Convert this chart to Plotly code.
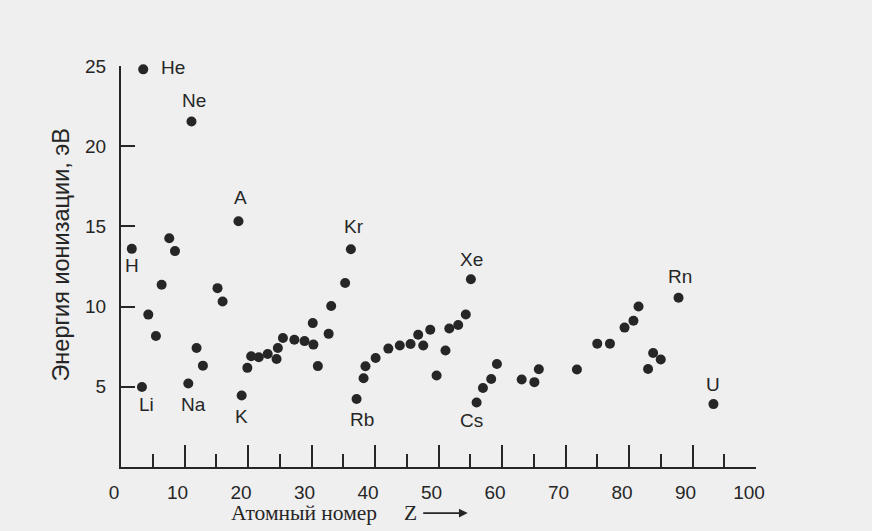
import plotly.graph_objects as go

# Atomic number and ionization energy, eV
atomic_number = [1.7, 3.5, 3.3, 4.3, 5.5, 6.4, 7.6, 8.5, 11.1, 10.6, 11.9, 12.9, 15.2, 16.0,
                 18.5, 19.0, 19.9, 20.5, 21.7, 23.1, 24.5, 24.7, 25.5, 27.3, 28.9, 30.3, 30.2,
                 31.0, 32.7, 33.1, 35.3, 36.2, 37.1, 38.2, 38.5, 40.1, 42.1, 43.9, 45.6, 46.8,
                 47.6, 48.7, 49.7, 51.1, 51.7, 53.1, 54.3, 55.1, 56.0, 57.0, 58.3, 59.2, 63.1,
                 65.1, 65.8, 71.8, 75.0, 77.0, 79.3, 80.7, 81.5, 83.0, 83.8, 85.0, 87.8, 93.3]
ionization_energy = [13.60, 24.79, 4.99, 9.50, 8.17, 11.36, 14.26, 13.46, 21.54, 5.21, 7.42, 6.32,
                     11.15, 10.32, 15.32, 4.46, 6.18, 6.90, 6.84, 7.05, 6.73, 7.42, 8.04, 7.93,
                     7.85, 7.63, 8.97, 6.29, 8.30, 10.04, 11.47, 13.58, 4.24, 5.53, 6.28, 6.80,
                     7.38, 7.57, 7.67, 8.25, 7.57, 8.56, 5.70, 7.26, 8.63, 8.85, 9.51, 11.71,
                     4.02, 4.93, 5.49, 6.42, 5.45, 5.29, 6.09, 6.08, 7.69, 7.69, 8.69, 9.12,
                     10.01, 6.11, 7.11, 6.70, 10.55, 3.92]

# Element labels and the index of the point each belongs to
element_names = ["H", "He", "Li", "Ne", "Na", "A", "K", "Kr", "Rb", "Xe", "Cs", "Rn", "U"]
element_point = [0, 1, 2, 8, 9, 14, 15, 31, 32, 47, 48, 64, 65]

x_ticks = [0, 10, 20, 30, 40, 50, 60, 70, 80, 90, 100]
y_ticks = [5, 10, 15, 20, 25]

# label pixel offsets (style)
label_offsets = {
    "H": (0, -17), "He": (30, 2), "Li": (5, -18), "Ne": (3, 21), "Na": (5, -21),
    "A": (2, 24), "K": (0, -21), "Kr": (3, 23), "Rb": (5, -21), "Xe": (1, 20),
    "Cs": (-5, -18), "Rn": (1, 21), "U": (0, 20),
}

ink = "#262626"
bg = "#efefef"
sans = "Liberation Sans, Arial, sans-serif"
serif = "Liberation Serif, DejaVu Serif, serif"

fig = go.Figure()
fig.add_trace(go.Scatter(
    x=atomic_number, y=ionization_energy, mode="markers",
    marker=dict(size=10, color=ink, line=dict(width=0)),
    cliponaxis=False, showlegend=False, hoverinfo="x+y",
))

for name, idx in zip(element_names, element_point):
    dx, dy = label_offsets[name]
    fig.add_annotation(
        x=atomic_number[idx], y=ionization_energy[idx], text=name,
        showarrow=False, xshift=dx, yshift=dy,
        font=dict(family=sans, size=19, color=ink),
    )

fig.add_annotation(
    xref="paper", yref="paper", x=-0.118, y=0.53,
    text="Энергия ионизации, эВ", textangle=-90, showarrow=False,
    font=dict(family=sans, size=23.5, color=ink),
)
fig.add_annotation(
    xref="paper", yref="paper", x=0.17, y=-0.115, xanchor="left", yanchor="middle",
    text="Атомный номер\u00a0\u00a0\u00a0\u00a0\u00a0Z", showarrow=False,
    font=dict(family=serif, size=21.5, color=ink),
)
# arrow after "Z"
fig.add_annotation(
    xref="paper", yref="paper", x=0.546, y=-0.115, ax=-46, ay=0,
    text="", showarrow=True, arrowhead=2, arrowsize=1.1, arrowwidth=1.6,
    arrowcolor=ink, standoff=0, startstandoff=0,
)

fig.update_layout(
    width=872, height=531,
    margin=dict(l=121, r=116, t=66, b=64),
    paper_bgcolor=bg, plot_bgcolor=bg,
    showlegend=False,
)
fig.update_xaxes(
    range=[0, 100], tickvals=x_ticks, ticktext=[str(v) for v in x_ticks],
    showline=True, linecolor=ink, linewidth=2, mirror=False,
    ticks="inside", ticklen=22, tickwidth=2, tickcolor=ink,
    minor=dict(ticks="inside", ticklen=13, tickwidth=2, tickcolor=ink, dtick=5, tick0=0),
    showgrid=False, zeroline=False,
    tickfont=dict(family=sans, size=19, color=ink),
    ticklabelshift=-7, ticklabelstandoff=7,
)
fig.update_yaxes(
    range=[0, 25], tickvals=y_ticks, ticktext=[str(v) for v in y_ticks],
    showline=True, linecolor=ink, linewidth=2, mirror=False,
    ticks="inside", ticklen=14, tickwidth=2, tickcolor=ink,
    showgrid=False, zeroline=False,
    tickfont=dict(family=sans, size=19, color=ink),
    ticklabelstandoff=9,
)

fig.write_html("out.html")
